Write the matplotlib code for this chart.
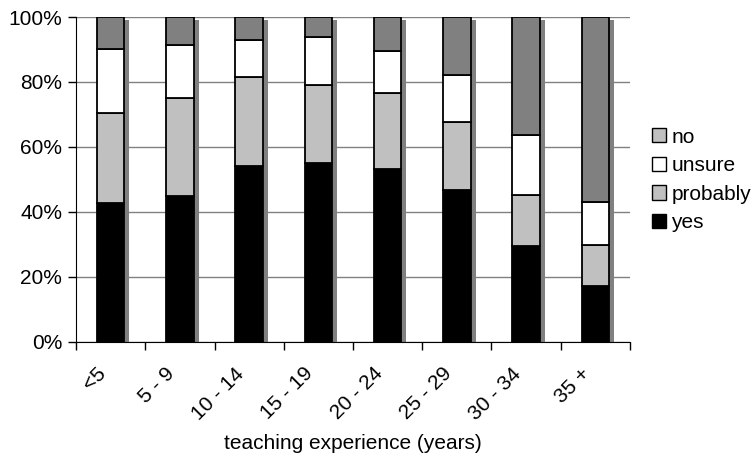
import numpy as np
import matplotlib.pyplot as plt
import matplotlib.patheffects as pe
from matplotlib.patches import Patch
from matplotlib.transforms import ScaledTranslation

plt.rcParams['font.family'] = ['Liberation Sans', 'DejaVu Sans']

# Data (percent of respondents)
categories = ['<5', '5 - 9', '10 - 14', '15 - 19', '20 - 24', '25 - 29', '30 - 34', '35 +']
yes = [42.8, 44.9, 54.2, 55.1, 53.3, 46.7, 29.4, 17.1]
probably = [27.7, 30.2, 27.4, 24.0, 23.4, 20.9, 15.9, 12.7]
unsure = [19.7, 16.4, 11.4, 14.7, 12.7, 14.6, 18.4, 13.2]
no = [9.8, 8.5, 7.0, 6.2, 10.6, 17.8, 36.3, 57.0]

series = [('yes', yes, '#000000'),
          ('probably', probably, '#c0c0c0'),
          ('unsure', unsure, '#ffffff'),
          ('no', no, '#808080')]

fs = 15

fig = plt.figure(figsize=(7.55, 4.57), dpi=100)
ax = fig.add_axes([0.1007, 0.2527, 0.7337, 0.7101])

x = np.arange(len(categories))
width = 0.4

# shadow behind each full bar
totals = np.sum([yes, probably, unsure, no], axis=0)
ax.bar(x, totals, width, color='#808080', edgecolor='none', zorder=2,
       path_effects=[pe.SimplePatchShadow(offset=(3.5, -2.2), shadow_rgbFace='#808080', alpha=1.0),
                     pe.Normal()])

bottom = np.zeros(len(categories))
for name, vals, col in series:
    ax.bar(x, vals, width, bottom=bottom, color=col, edgecolor='black',
           linewidth=1.3, zorder=3)
    bottom += np.array(vals)

ax.set_xlim(-0.5, len(categories) - 0.5)
ax.set_ylim(0, 100)
ax.set_yticks(range(0, 101, 20))
ax.set_yticklabels([f'{v}%' for v in range(0, 101, 20)], fontsize=fs)
ax.yaxis.grid(True, color='#808080', linewidth=1.0, zorder=0)
ax.set_axisbelow(True)

ax.set_xticks(np.arange(-0.5, len(categories), 1.0))
ax.set_xticklabels([])
ax.set_xticks(x, minor=True)
ax.set_xticklabels(categories, minor=True, rotation=45, ha='right', va='center',
                   rotation_mode='anchor', fontsize=fs)
ax.tick_params(axis='x', which='minor', length=0, pad=21)
ax.tick_params(axis='x', which='major', length=6, width=1)
ax.tick_params(axis='y', length=6, width=1, pad=4)
shift = ScaledTranslation(-0.08, 0, fig.dpi_scale_trans)
for lab in ax.get_xticklabels(minor=True):
    lab.set_transform(lab.get_transform() + shift)

ax.spines['top'].set_visible(False)
ax.spines['right'].set_visible(False)

ax.set_xlabel('teaching experience (years)', fontsize=fs, labelpad=8)

handles = [Patch(facecolor='#c0c0c0', edgecolor='black', label='no'),
           Patch(facecolor='#ffffff', edgecolor='black', label='unsure'),
           Patch(facecolor='#c0c0c0', edgecolor='black', label='probably'),
           Patch(facecolor='#000000', edgecolor='black', label='yes')]
fig.legend(handles=handles, loc='center left', bbox_to_anchor=(0.864, 0.606),
           frameon=False, fontsize=fs, handlelength=0.67, handleheight=0.67,
           handletextpad=0.25, labelspacing=0.46, borderpad=0, borderaxespad=0)

fig.savefig('out.png', dpi=100)
